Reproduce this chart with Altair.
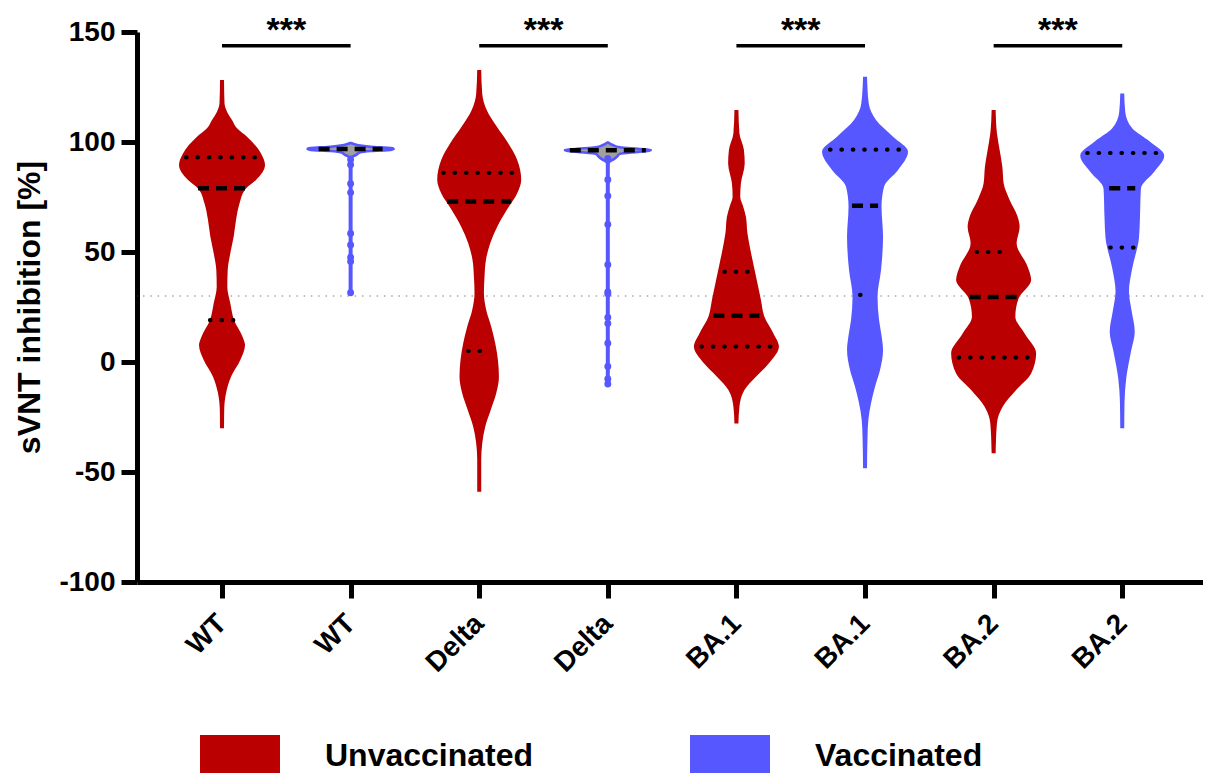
import altair as alt
import pandas as pd

RED = "#BA0000"
BLUE = "#5757FF"
GRAY_FILL = "#A0A0A0"
FONT = "Liberation Sans"

# ---------------- data ----------------
labels = ["WT", "WT", "Delta", "Delta", "BA.1", "BA.1", "BA.2", "BA.2"]
groups = ["Unvaccinated", "Vaccinated"] * 4

# violin profiles: sVNT value and relative density (half width)
wt_u_v = [-30.1, -21.8, -14.2, -6.7, 0.9, 7.7, 11.5, 19.1, 26.7, 34.2, 41.8, 49.4, 57.0, 64.5, 72.1, 78.9, 82.7, 89.5, 94.8, 102.4, 106.2, 110.0, 113.8, 117.6, 128.2]
wt_u_w = [2.0, 2.2, 4.0, 9.0, 18.3, 23.0, 20.5, 12.0, 8.3, 5.3, 5.7, 8.3, 11.7, 14.0, 17.5, 24.0, 34.0, 43.0, 39.0, 25.0, 15.0, 10.0, 5.0, 2.5, 2.0]

dl_u_v = [-59.0, -44.5, -37.0, -29.4, -21.8, -14.2, -6.7, 0.9, 8.5, 16.0, 23.6, 31.2, 38.8, 46.4, 54.0, 61.5, 69.1, 76.7, 82.7, 91.8, 99.4, 107.0, 114.5, 122.1, 132.7]
dl_u_w = [2.0, 2.0, 3.0, 6.0, 11.5, 17.0, 19.7, 18.7, 16.0, 12.0, 7.0, 4.7, 5.3, 6.7, 11.0, 18.0, 27.5, 38.0, 42.0, 38.0, 29.0, 17.5, 7.5, 3.0, 2.0]

b1_u_v = [-27.9, -20.3, -12.7, -6.7, -0.6, 7.0, 13.0, 20.6, 28.2, 35.8, 43.3, 50.9, 58.5, 66.0, 71.0, 75.1, 81.2, 90.3, 96.4, 104.0, 114.5]
b1_u_w = [2.0, 3.0, 8.0, 19.5, 32.5, 42.5, 37.0, 28.0, 24.5, 21.0, 17.5, 14.0, 11.0, 9.5, 6.5, 3.8, 4.5, 8.3, 7.5, 3.0, 2.0]

b1_v_v = [-48.3, -34.0, -26.4, -18.8, -11.2, -3.6, 5.5, 12.0, 19.1, 29.7, 41.8, 57.0, 70.6, 79.7, 87.3, 95.6, 102.4, 110.0, 117.6, 129.7]
b1_v_w = [2.0, 2.5, 3.3, 6.0, 10.0, 15.0, 18.0, 16.5, 14.0, 12.5, 16.0, 18.0, 16.5, 19.0, 33.0, 43.0, 28.0, 11.0, 3.7, 2.0]

b2_u_v = [-41.5, -27.9, -20.3, -12.7, -5.2, 4.0, 13.0, 20.6, 29.0, 37.3, 43.3, 54.0, 61.5, 66.0, 73.6, 81.2, 88.8, 96.4, 104.0, 114.5]
b2_u_w = [2.0, 3.3, 9.0, 22.5, 37.5, 42.5, 31.0, 21.7, 25.0, 37.5, 34.0, 23.0, 26.0, 24.0, 16.0, 10.0, 8.7, 6.0, 3.3, 2.0]

b2_v_v = [-30.1, -18.0, -7.4, 4.7, 13.8, 22.9, 32.0, 42.6, 56.2, 65.3, 78.9, 86.5, 93.8, 100.2, 106.2, 113.8, 122.1]
b2_v_w = [2.0, 2.3, 4.0, 8.7, 12.5, 9.5, 6.7, 10.0, 16.7, 17.7, 18.7, 32.0, 42.0, 27.5, 10.0, 3.0, 2.0]

# narrow vaccinated violins (WT, Delta): top part
wt_v_v = [93.0, 93.6, 94.3, 95.2, 95.9, 96.4, 96.8, 97.2, 97.8, 98.5, 99.0, 99.5]
wt_v_w = [0.5, 3.0, 6.0, 9.0, 20.0, 40.0, 43.0, 40.0, 20.0, 8.0, 4.0, 0.5]
dl_v_v = [90.6, 91.3, 92.2, 93.3, 94.6, 95.5, 96.0, 96.4, 96.9, 97.6, 98.6, 99.8]
dl_v_w = [0.5, 2.5, 6.0, 9.0, 12.0, 30.0, 41.0, 43.0, 30.0, 12.0, 5.0, 0.5]
wt_v_tail = [31.0, 93.0]
dl_v_tail = [-10.5, 91.0]
wt_v_points = [92.0, 89.7, 81.0, 77.0, 58.4, 53.2, 47.6, 45.7, 31.5]
dl_v_points = [92.5, 82.8, 75.5, 62.5, 44.2, 31.8, 31.0, 20.2, 17.5, 8.5, -2.0, -7.7, -10.0]

# quartiles (q1, median, q3) and their line half widths
quart_vals = [[19, 79, 93], [None, 96.8, None], [5, 73, 86], [None, 96.2, None],
              [7, 21, 41], [30.5, 71, 96.5], [2, 29.5, 50], [52, 79, 95]]
quart_w = [[12, 24, 36], [None, 32, None], [11, 32, 36], [None, 38, None],
           [35, 23, 12], [5, 13, 35], [35, 24, 17], [12, 13, 35]]

threshold = 30
sig_pairs = [0, 2, 4, 6]
sig_text = ["***", "***", "***", "***"]
sig_bar_level = 143.7
sig_text_level = 146.0

DENS = 128.6  # density -> category-width conversion

# ---------------- tables ----------------
profiles = {0: (wt_u_v, wt_u_w), 2: (dl_u_v, dl_u_w), 4: (b1_u_v, b1_u_w),
            5: (b1_v_v, b1_v_w), 6: (b2_u_v, b2_u_w), 7: (b2_v_v, b2_v_w)}
rows = []
for g, (vs, ws) in profiles.items():
    for v, w in zip(vs, ws):
        rows.append(dict(g=g, status=groups[g], v=v, lo=g - w / DENS, hi=g + w / DENS))
violins = pd.DataFrame(rows)

thin_rows = []
for g, (vs, ws) in {1: (wt_v_v, wt_v_w), 3: (dl_v_v, dl_v_w)}.items():
    for v, w in zip(vs, ws):
        thin_rows.append(dict(g=g, v=v, lo=g - w / DENS, hi=g + w / DENS))
thin = pd.DataFrame(thin_rows)

tails = pd.DataFrame([dict(g=1, v1=wt_v_tail[0], v2=wt_v_tail[1]),
                      dict(g=3, v1=dl_v_tail[0], v2=dl_v_tail[1])])
pts = pd.DataFrame([dict(g=1, v=v) for v in wt_v_points] + [dict(g=3, v=v) for v in dl_v_points])

q_rows = []
for g in range(8):
    for k in range(3):
        val = quart_vals[g][k]
        if val is None:
            continue
        w = quart_w[g][k]
        q_rows.append(dict(g=g, v=val, lo=g - w / DENS, hi=g + w / DENS,
                           kind="median" if k == 1 else "quartile"))
quarts = pd.DataFrame(q_rows)
medians = quarts[quarts.kind == "median"]
quartiles = quarts[quarts.kind == "quartile"]

sig = pd.DataFrame([dict(a=p, b=p + 1, m=p + 0.5, v=sig_bar_level, tv=sig_text_level, t=s)
                    for p, s in zip(sig_pairs, sig_text)])
thr = pd.DataFrame({"v": [threshold]})

# ---------------- scales / axes ----------------
xscale = alt.Scale(domain=[-0.661, 7.628], nice=False, zero=False)
yscale = alt.Scale(domain=[-100, 150], nice=False, zero=False)
label_expr = ""
for i, l in enumerate(labels):
    label_expr += "datum.value == %d ? '%s' : " % (i, l)
label_expr += "''"

xaxis = alt.Axis(values=list(range(8)), labelExpr=label_expr, title="",
                 labelAngle=-45, labelAlign="right", labelBaseline="middle",
                 labelPadding=21, labelFontSize=28, tickSize=16, labelOverlap=False,
                 labelFlush=False, grid=False)
yaxis = alt.Axis(values=[-100, -50, 0, 50, 100, 150], labelExpr="datum.value + ''",
                 title="sVNT inhibition [%]", labelFontSize=28, tickSize=16,
                 labelPadding=6, titleFontSize=32, titlePadding=12, labelFlush=False,
                 labelOverlap=False, grid=False)

color_scale = alt.Scale(domain=["Unvaccinated", "Vaccinated"], range=[RED, BLUE])
legend = alt.Legend(title=None, orient="none", legendX=63, legendY=684,
                    direction="horizontal",
                    symbolType="M-1,-0.525H1V0.525H-1Z",
                    symbolSize=6400, symbolStrokeWidth=0,
                    labelFont=FONT, labelFontSize=32,
                    labelFontWeight="bold", labelColor="black",
                    labelOffset=45, columnPadding=156,
                    padding=0, labelLimit=0)

XA = dict(scale=xscale, axis=xaxis)
YA = dict(scale=yscale, axis=yaxis)

thr_layer = alt.Chart(thr).mark_rule(color="#A8A8A8", strokeWidth=1.6,
                                     strokeDash=[1.5, 5.8]).encode(
    y=alt.Y("v:Q", **YA))

violin_layer = alt.Chart(violins).mark_area(orient="horizontal", interpolate="monotone").encode(
    y=alt.Y("v:Q", **YA),
    x=alt.X("lo:Q", **XA),
    x2="hi:Q",
    detail="g:N",
    fill=alt.Fill("status:N", scale=color_scale, legend=legend),
)

tail_layer = alt.Chart(tails).mark_rule(color=BLUE, strokeWidth=4, strokeCap="round").encode(
    x=alt.X("g:Q", **XA), y=alt.Y("v1:Q", **YA), y2="v2:Q")

pts_layer = alt.Chart(pts).mark_circle(color=BLUE, size=48, opacity=1).encode(
    x=alt.X("g:Q", **XA), y=alt.Y("v:Q", **YA))

thin_layer = alt.Chart(thin).mark_area(orient="horizontal", interpolate="monotone",
                                       fill=GRAY_FILL, stroke=BLUE, strokeWidth=2.6,
                                       strokeJoin="round").encode(
    y=alt.Y("v:Q", **YA), x=alt.X("lo:Q", **XA), x2="hi:Q", detail="g:N")

q_layer = alt.Chart(quartiles).mark_rule(color="black", strokeWidth=4.2,
                                         strokeDash=[0.5, 10.9], strokeCap="round").encode(
    x=alt.X("lo:Q", **XA), x2="hi:Q", y=alt.Y("v:Q", **YA))

m_layer = alt.Chart(medians).mark_rule(color="black", strokeWidth=4.5,
                                       strokeDash=[11, 7]).encode(
    x=alt.X("lo:Q", **XA), x2="hi:Q", y=alt.Y("v:Q", **YA))

bar_layer = alt.Chart(sig).mark_rule(color="black", strokeWidth=3.5).encode(
    x=alt.X("a:Q", **XA), x2="b:Q", y=alt.Y("v:Q", **YA))

star_layer = alt.Chart(sig).mark_text(font=FONT, fontSize=34, fontWeight="bold",
                                      baseline="alphabetic", align="center",
                                      color="black").encode(
    x=alt.X("m:Q", **XA), y=alt.Y("tv:Q", **YA), text="t:N")

chart = alt.layer(thr_layer, violin_layer, thin_layer, tail_layer, pts_layer,
                  q_layer, m_layer, bar_layer, star_layer).properties(
    width=1066, height=550,
    autosize=alt.AutoSizeParams(type="none"),
    padding={"left": 129, "top": 24, "right": 0, "bottom": 191},
).configure_view(stroke=None).configure_axis(
    domainColor="black", domainWidth=5,
    tickColor="black", tickWidth=5,
    labelFont=FONT, labelFontWeight="bold", labelColor="black",
    titleFont=FONT, titleFontWeight="bold", titleColor="black",
)

chart.save("out.html", embed_options={"renderer": "svg", "actions": False})
